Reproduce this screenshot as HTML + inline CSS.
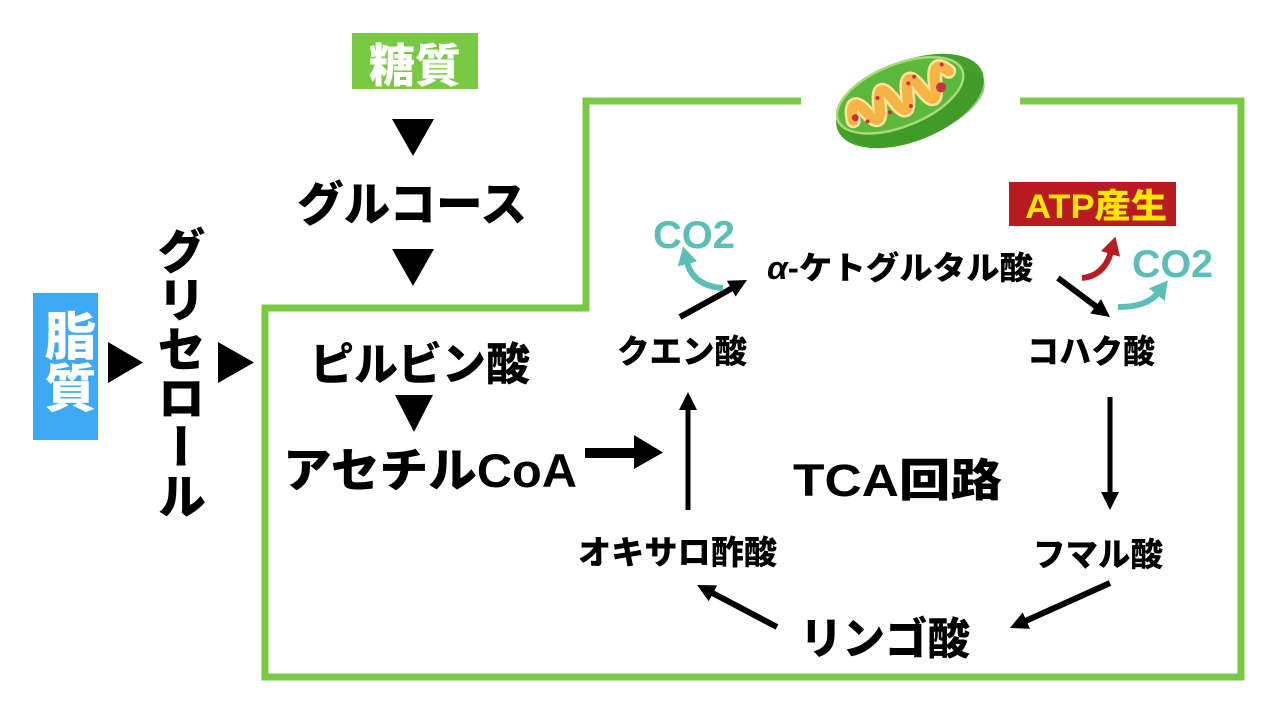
<!DOCTYPE html>
<html>
<head>
<meta charset="utf-8">
<style>
html,body{margin:0;padding:0;background:#fff;}
body{width:1280px;height:720px;position:relative;overflow:hidden;font-family:"Liberation Sans","Noto Sans CJK JP",sans-serif;}
svg{position:absolute;left:0;top:0;}
.v{position:absolute;writing-mode:vertical-rl;text-orientation:upright;font-weight:900;line-height:1;white-space:nowrap;font-family:"Liberation Sans","Noto Sans CJK JP",sans-serif;}
</style>
</head>
<body>
<svg width="1280" height="720" viewBox="0 0 1280 720" xmlns="http://www.w3.org/2000/svg">
  <defs>
    <marker id="ah" markerUnits="userSpaceOnUse" markerWidth="18" markerHeight="18" viewBox="0 0 18 18" refX="2" refY="9" orient="auto">
      <path d="M0,0 L18,9 L0,18 z" fill="#000"/>
    </marker>
    <marker id="teal" markerUnits="userSpaceOnUse" markerWidth="18" markerHeight="20" viewBox="0 0 18 20" refX="2" refY="10" orient="auto">
      <path d="M0,0 L18,10 L0,20 z" fill="#5bbfb7"/>
    </marker>
    <marker id="red" markerUnits="userSpaceOnUse" markerWidth="18" markerHeight="20" viewBox="0 0 18 20" refX="2" refY="10" orient="auto">
      <path d="M0,0 L18,10 L0,20 z" fill="#b81c22"/>
    </marker>
  </defs>

  <!-- green boundary -->
  <path d="M801,101 H586 V308 H265 V677 H1241 V101 H1020" fill="none" stroke="#7ac943" stroke-width="7"/>

  <!-- 糖質 box -->
  <rect x="352" y="33" width="126" height="56" fill="#7ac943"/>
  <text x="415" y="82" text-anchor="middle" font-size="46" font-weight="900" fill="#fff" font-family="Liberation Sans, Noto Sans CJK JP, sans-serif">糖質</text>

  <!-- triangles -->
  <polygon points="392,119 434,119 413,156" fill="#000"/>
  <polygon points="392,249 434,249 413,286" fill="#000"/>
  <polygon points="395,395 433,395 414,432" fill="#000"/>
  <polygon points="108,342 108,383 143,362.5" fill="#000"/>
  <polygon points="218,342 218,383 254,362.5" fill="#000"/>

  <g font-family="Liberation Sans, Noto Sans CJK JP, sans-serif" font-weight="900" fill="#000">
    <text x="297" y="221" font-size="47" textLength="230" lengthAdjust="spacingAndGlyphs">グルコース</text>
    <text x="310" y="380" font-size="45" textLength="220" lengthAdjust="spacingAndGlyphs">ピルビン酸</text>
    <text x="283" y="487" font-size="47" textLength="294" lengthAdjust="spacingAndGlyphs">アセチルCoA</text>
    <text x="767" y="279" font-size="32" textLength="266" lengthAdjust="spacingAndGlyphs"><tspan font-style="italic">α</tspan>-ケトグルタル酸</text>
    <text x="617" y="363" font-size="33" textLength="130" lengthAdjust="spacingAndGlyphs">クエン酸</text>
    <text x="1027" y="363" font-size="33" textLength="128" lengthAdjust="spacingAndGlyphs">コハク酸</text>
    <text x="793" y="496" font-size="45" textLength="209" lengthAdjust="spacingAndGlyphs">TCA回路</text>
    <text x="578" y="564" font-size="33" textLength="199" lengthAdjust="spacingAndGlyphs">オキサロ酢酸</text>
    <text x="1033" y="566" font-size="33" textLength="130" lengthAdjust="spacingAndGlyphs">フマル酸</text>
    <text x="800" y="654" font-size="44" textLength="170" lengthAdjust="spacingAndGlyphs">リンゴ酸</text>
  </g>

  <!-- CO2 labels -->
  <text x="653" y="248" font-size="39" font-weight="bold" fill="#5bbfb7" font-family="Liberation Sans, sans-serif" textLength="82" lengthAdjust="spacingAndGlyphs">CO2</text>
  <text x="1132" y="277" font-size="39" font-weight="bold" fill="#5bbfb7" font-family="Liberation Sans, sans-serif" textLength="81" lengthAdjust="spacingAndGlyphs">CO2</text>

  <!-- ATP box -->
  <rect x="1009" y="182" width="167" height="44" fill="#b81c22"/>
  <text x="1025" y="218" font-size="34" font-weight="900" fill="#ffe600" font-family="Liberation Sans, Noto Sans CJK JP, sans-serif" textLength="142" lengthAdjust="spacingAndGlyphs">ATP産生</text>

  <!-- black straight arrows -->
  <g stroke="#000" stroke-width="6" fill="none">
    <line x1="680" y1="317" x2="733" y2="287.7" marker-end="url(#ah)"/>
    <line x1="1058" y1="278" x2="1097.2" y2="307.4" marker-end="url(#ah)"/>
    <line x1="1110" y1="397" x2="1110" y2="494" stroke-width="5" marker-end="url(#ah)"/>
    <line x1="1110" y1="583" x2="1024.6" y2="621.4" marker-end="url(#ah)"/>
    <line x1="777" y1="627" x2="711.2" y2="592.4" marker-end="url(#ah)"/>
    <line x1="688" y1="510" x2="688" y2="408" stroke-width="5" marker-end="url(#ah)"/>
  </g>
  <!-- thick arrow -->
  <rect x="585" y="448" width="53" height="10" fill="#000"/>
  <polygon points="634,435 663,452.5 634,469" fill="#000"/>

  <!-- curved arrows -->
  <path d="M723,288 Q693,286 687,262" fill="none" stroke="#5bbfb7" stroke-width="6" marker-end="url(#teal)"/>
  <path d="M1082,278 Q1104,276 1111,252" fill="none" stroke="#b81c22" stroke-width="6" marker-end="url(#red)"/>
  <path d="M1118,307 Q1147,307 1158,293" fill="none" stroke="#5bbfb7" stroke-width="6" marker-end="url(#teal)"/>

  <!-- mitochondria -->
  <g transform="rotate(-22 910 101)">
    <ellipse cx="910" cy="101" rx="78" ry="40" fill="#45a02a"/>
    <ellipse cx="914" cy="110" rx="72" ry="30" fill="#3e9826" opacity="0.55"/>
    <ellipse cx="903" cy="92" rx="67" ry="31" fill="#5cb83a" stroke="#a6da7a" stroke-width="2.5"/>
    <path d="M850,98 C853,80 860,80 865,94 S875,112 880,94 S890,76 895,94 S905,112 910,94 S920,76 925,94 S935,112 940,94 S950,76 957,88" fill="none" stroke="#fde3a0" stroke-width="15" stroke-linecap="round" stroke-linejoin="round"/>
    <path d="M850,98 C853,80 860,80 865,94 S875,112 880,94 S890,76 895,94 S905,112 910,94 S920,76 925,94 S935,112 940,94 S950,76 957,88" fill="none" stroke="#f5b443" stroke-width="10" stroke-linecap="round" stroke-linejoin="round"/>
    <circle cx="853" cy="96" r="3.5" fill="#cf2a3e"/>
    <circle cx="863" cy="104" r="2" fill="#cf2a3e"/>
    <circle cx="881" cy="86" r="2" fill="#cf2a3e"/>
    <circle cx="887" cy="104" r="2" fill="#cf2a3e"/>
    <circle cx="909" cy="106" r="2" fill="#cf2a3e"/>
    <circle cx="915" cy="84" r="2" fill="#cf2a3e"/>
    <circle cx="923" cy="80" r="2" fill="#cf2a3e"/>
    <circle cx="944" cy="100" r="5" fill="#c9304a"/>
    <circle cx="953" cy="79" r="2" fill="#cf2a3e"/>
  </g>
</svg>

<!-- 脂質 box -->
<div style="position:absolute;left:33px;top:293px;width:65px;height:147px;background:#3fa9f5;"></div>
<div class="v" style="left:39px;top:309px;font-size:52px;color:#fff;">脂質</div>

<!-- グリセロール -->
<div class="v" style="left:152px;top:226px;font-size:49px;color:#000;">グリセロール</div>
</body>
</html>
